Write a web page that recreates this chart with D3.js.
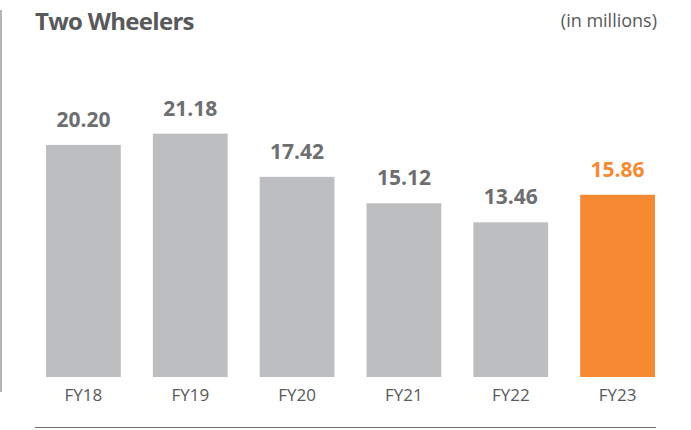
<!DOCTYPE html>
<html>
<head>
<meta charset="utf-8">
<script src="https://cdn.jsdelivr.net/npm/d3@7"></script>
<style>
  body { margin: 0; background: #fff; }
  svg { display: block; }
</style>
</head>
<body>
<div class="viz"></div>
<script>
var SVGwd = 691, SVGht = 430;

var years = ["FY18", "FY19", "FY20", "FY21", "FY22", "FY23"];
var volumes = [20.20, 21.18, 17.42, 15.12, 13.46, 15.86];
var highlight = "FY23";

var canvas = d3.select(".viz")
    .append("svg")
    .attr("width", SVGwd)
    .attr("height", SVGht);

// baseline at 377, about 11.49px per million
var x = d3.scaleBand()
    .domain(years)
    .range([30, 671])
    .paddingInner(0.30)
    .paddingOuter(0.15);

var y = d3.scaleLinear()
    .domain([0, 30])
    .range([377, 377 - 11.49 * 30]);

// left rule and bottom rule
canvas.append("line")
    .attr("x1", 1).attr("x2", 1)
    .attr("y1", 10).attr("y2", 392)
    .attr("stroke", "#b3b5b7")
    .attr("stroke-width", 2);

canvas.append("line")
    .attr("x1", 35).attr("x2", 656)
    .attr("y1", 427.5).attr("y2", 427.5)
    .attr("stroke", "#6d6e71")
    .attr("stroke-width", 1);

canvas.append("text")
    .attr("x", 35)
    .attr("y", 30)
    .text("Two Wheelers")
    .style("font", "bold 24px 'Open Sans'")
    .attr("fill", "#58595b")
    .attr("letter-spacing", "-0.7");

canvas.append("text")
    .attr("x", 657)
    .attr("y", 27)
    .attr("text-anchor", "end")
    .text("(in millions)")
    .style("font", "18px 'Open Sans'")
    .attr("fill", "#58595b");

var bars = canvas.append("g");
years.forEach(function (yr, i) {
    var c = yr == highlight ? "#f58a33" : "#bcbec0";
    bars.append("rect")
        .attr("x", x(yr))
        .attr("y", y(volumes[i]))
        .attr("width", x.bandwidth())
        .attr("height", y(0) - y(volumes[i]))
        .attr("fill", c);

    bars.append("text")
        .attr("x", x(yr) + x.bandwidth() / 2)
        .attr("y", y(volumes[i]) - 18)
        .attr("text-anchor", "middle")
        .text(volumes[i].toFixed(2))
        .style("font", "bold 21px 'Open Sans'")
        .attr("fill", yr == highlight ? "#f58a33" : "#6d6e71");
});

var xAxis = canvas.append("g")
    .attr("transform", "translate(0," + y(0) + ")")
    .call(d3.axisBottom(x).tickSize(0).tickPadding(12));
xAxis.select(".domain").remove();
xAxis.selectAll("text")
    .style("font", "17px 'Open Sans'")
    .attr("fill", "#58595b");
</script>
</body>
</html>
